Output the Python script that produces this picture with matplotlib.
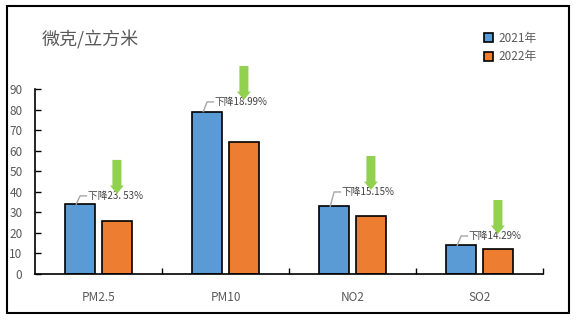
import matplotlib
matplotlib.use("Agg")
import matplotlib.pyplot as plt
from matplotlib.patches import Rectangle
import numpy as np

plt.rcParams['font.family'] = ['Noto Sans CJK SC', 'DejaVu Sans']

categories = ["PM2.5", "PM10", "NO2", "SO2"]
series_names = ["2021年", "2022年"]
values_2021 = [34, 79, 33, 14]
values_2022 = [26, 64, 28, 12]
change_labels = ["下降23. 53%", "下降18.99%", "下降15.15%", "下降14.29%"]
label_heights = [38, 83.7, 39.9, 18.5]
yticks = [0, 10, 20, 30, 40, 50, 60, 70, 80, 90]

W, H = 578, 321
fig = plt.figure(figsize=(W / 100, H / 100), dpi=100)
ax = fig.add_axes([35 / W, (H - 274) / H, (543 - 35) / W, (274 - 89) / H])

x = np.arange(len(categories))
bw = 0.23
off = 0.145
c1, c2 = "#5B9BD5", "#ED7D31"
ax.bar(x - off, values_2021, bw, color=c1, edgecolor="black", linewidth=1.2, label=series_names[0], zorder=2)
ax.bar(x + off, values_2022, bw, color=c2, edgecolor="black", linewidth=1.2, label=series_names[1], zorder=2)

ax.set_xlim(-0.5, 3.5)
ax.set_ylim(0, 90)
ax.set_yticks(yticks)
ax.set_xticks(x)
ax.set_xticklabels(categories)
ax.set_xticks([0.5, 1.5, 2.5, 3.5], minor=True)
ax.tick_params(axis='x', which='major', length=0, pad=12, labelsize=8.5, labelcolor="#595959")
ax.tick_params(axis='x', which='minor', direction='in', length=4, width=1, color="black")
ax.tick_params(axis='y', direction='in', length=4, width=1, labelsize=8.5, labelcolor="#595959", pad=9)
for s in ["top", "right"]:
    ax.spines[s].set_visible(False)
for s in ["left", "bottom"]:
    ax.spines[s].set_linewidth(1.2)

for i, (v1, v2) in enumerate(zip(values_2021, values_2022)):
    ly = label_heights[i]
    bx = i - off - 0.03
    # leader line
    ax.plot([bx, bx + 0.03, bx + 0.08], [v1, ly, ly], color="#A6A6A6", lw=1, zorder=3, clip_on=False)
    ax.text(bx + 0.09, ly, change_labels[i], fontsize=7, color="#404040",
            va="center", ha="left", zorder=4, clip_on=False)
    # green arrow above 2022 bar
    ax.annotate("", xy=(i + off, ly + 1), xytext=(i + off, ly + 17.5),
                arrowprops=dict(arrowstyle="simple,head_width=1.0,head_length=0.6,tail_width=0.65",
                                color="#92D050", lw=0, shrinkA=0, shrinkB=0),
                zorder=5, annotation_clip=False)

fig.text(42 / W, 1 - 40 / H, "微克/立方米", fontsize=13, color="#595959", va="center", ha="left")

leg = fig.legend(loc="upper left", bbox_to_anchor=(478 / W, 1 - 26 / H), frameon=False,
                 fontsize=8.5, handlelength=0.8, handleheight=0.8, handletextpad=0.4,
                 labelspacing=0.45, borderpad=0)
for t in leg.get_texts():
    t.set_color("#595959")

fig.patches.append(Rectangle((7 / W, 1 - 313 / H), (569 - 7) / W, (313 - 6) / H,
                             transform=fig.transFigure, fill=False, edgecolor="black", linewidth=1.5))

fig.savefig("out.png", dpi=100)
